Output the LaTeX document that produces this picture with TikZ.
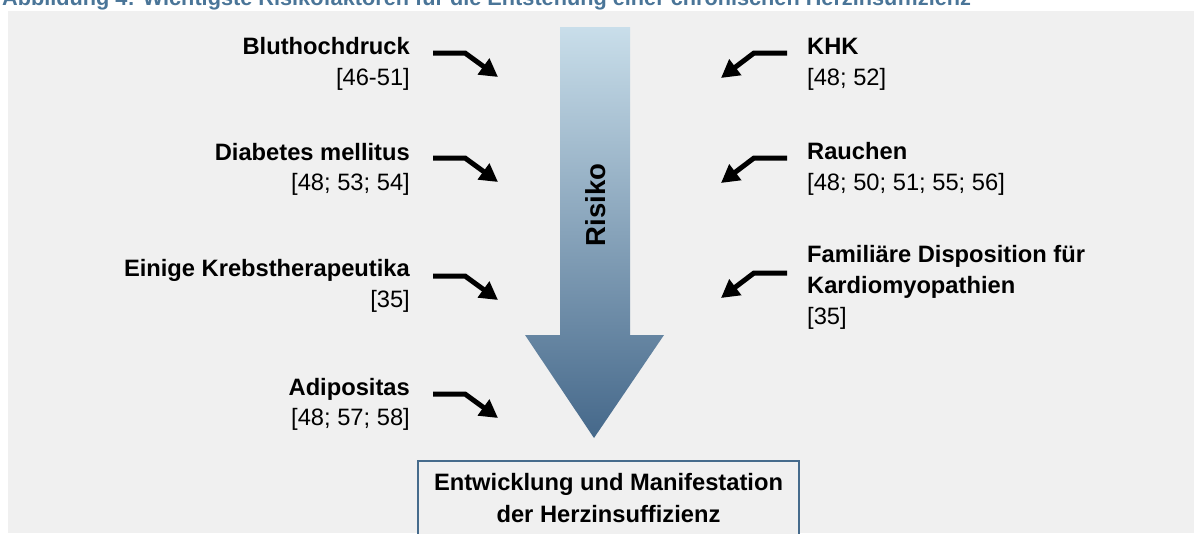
\documentclass[tikz,border=0pt]{standalone}
\usepackage{fontspec}
\setmainfont{Liberation Sans}
\usetikzlibrary{arrows.meta}
\definecolor{bg}{HTML}{F0F0F0}
\definecolor{titleblue}{HTML}{4A7598}
\definecolor{arrtop}{HTML}{C9DEEA}
\definecolor{arrbot}{HTML}{45688A}
\definecolor{boxline}{HTML}{466B8C}
\begin{document}
\begin{tikzpicture}[x=1pt,y=-1pt,
  lab/.style={inner sep=0pt, font=\fontsize{23.7}{31}\selectfont\bfseries},
  ref/.style={inner sep=0pt, font=\fontsize{23.7}{31}\selectfont},
  riskarrow/.style={line width=5pt, -{Triangle[length=18pt,width=19pt]}}]
\useasboundingbox (0,0) rectangle (1194,533);
\fill[bg] (8,11) rectangle (1194,533);
\node[anchor=base west, inner sep=0pt, text=titleblue, font=\fontsize{21.7}{26}\selectfont\bfseries] (title) at (2,5) {Abbildung 4: Wichtigste Risikofaktoren für die Entstehung einer chronischen Herzinsuffizienz};

% big arrow
\shade[top color=arrtop, bottom color=arrbot] (560,27) -- (630,27) -- (630,335) -- (664,335) -- (594,438) -- (525,335) -- (560,335) -- cycle;
\node[rotate=90, inner sep=0pt, font=\fontsize{27.5}{30}\selectfont\bfseries] (risk) at (596,205) {Risiko};

% left labels
\node[lab, anchor=base east] (bh) at (410,54) {Bluthochdruck};
\node[ref, anchor=base east] (bhr) at (410,85) {[46-51]};
\node[lab, anchor=base east] (dm) at (410,160) {Diabetes mellitus};
\node[ref, anchor=base east] (dmr) at (410,190) {[48; 53; 54]};
\node[lab, anchor=base east] (kt) at (410,276) {Einige Krebstherapeutika};
\node[ref, anchor=base east] (ktr) at (410,307) {[35]};
\node[lab, anchor=base east] (ad) at (410,395) {Adipositas};
\node[ref, anchor=base east] (adr) at (410,425) {[48; 57; 58]};

% right labels
\node[lab, anchor=base west] (khk) at (807,54) {KHK};
\node[ref, anchor=base west] (khkr) at (807,85) {[48; 52]};
\node[lab, anchor=base west] (ra) at (807,159) {Rauchen};
\node[ref, anchor=base west] (rar) at (807,190) {[48; 50; 51; 55; 56]};
\node[lab, anchor=base west] (fd) at (807,262) {Familiäre Disposition für};
\node[lab, anchor=base west] (fd2) at (807,293) {Kardiomyopathien};
\node[ref, anchor=base west] (fdr) at (807,324) {[35]};

% arrow coordinates
\coordinate (l1s) at (433,53);  \coordinate (l1t) at (498,77);
\coordinate (l2s) at (433,158); \coordinate (l2t) at (498,182);
\coordinate (l3s) at (433,276); \coordinate (l3t) at (498,300);
\coordinate (l4s) at (433,394); \coordinate (l4t) at (498,418);
\coordinate (r1s) at (787,53);  \coordinate (r1t) at (721,78);
\coordinate (r2s) at (787,158); \coordinate (r2t) at (721,183);
\coordinate (r3s) at (787,273); \coordinate (r3t) at (721,298);

\draw[riskarrow] (l1s) -- ++(32,0) -- (l1t);
\draw[riskarrow] (l2s) -- ++(32,0) -- (l2t);
\draw[riskarrow] (l3s) -- ++(32,0) -- (l3t);
\draw[riskarrow] (l4s) -- ++(32,0) -- (l4t);
\draw[riskarrow] (r1s) -- ++(-33,0) -- (r1t);
\draw[riskarrow] (r2s) -- ++(-33,0) -- (r2t);
\draw[riskarrow] (r3s) -- ++(-33,0) -- (r3t);

% result box
\node[draw=boxline, line width=1.5pt, fill=bg, minimum width=381pt, minimum height=100pt, anchor=north, inner sep=0pt] (box) at (608.5,460) {};
\node[lab, anchor=base] (box1) at (608.5,490) {Entwicklung und Manifestation};
\node[lab, anchor=base] (box2) at (608.5,522) {der Herzinsuffizienz};
\end{tikzpicture}
\end{document}
